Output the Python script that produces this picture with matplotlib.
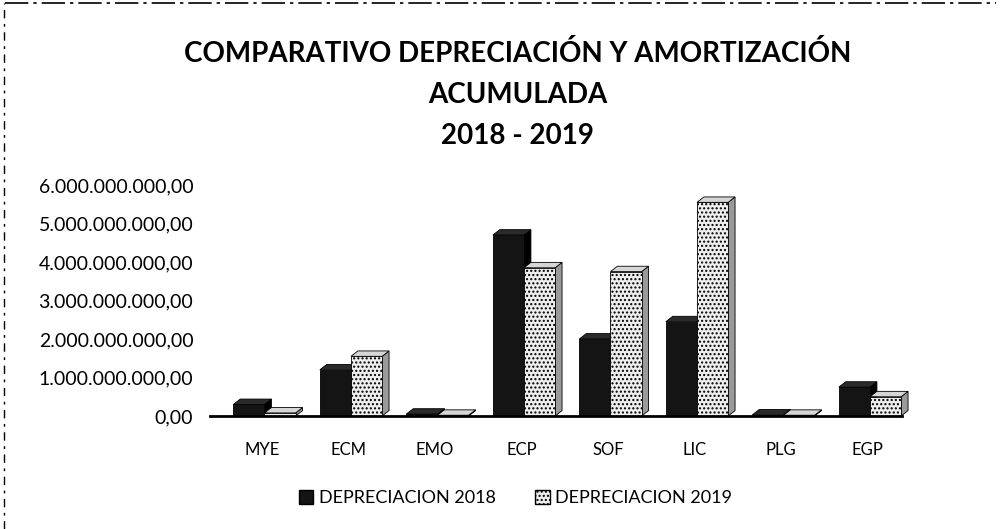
import numpy as np
import matplotlib
matplotlib.use("Agg")
import matplotlib.pyplot as plt
from matplotlib.patches import Polygon, Patch
from matplotlib.ticker import FuncFormatter

categorias = ['MYE', 'ECM', 'EMO', 'ECP', 'SOF', 'LIC', 'PLG', 'EGP']
dep_2018 = [0.30e9, 1.20e9, 0.05e9, 4.70e9, 2.00e9, 2.45e9, 0.03e9, 0.75e9]
dep_2019 = [0.08e9, 1.55e9, 0.02e9, 3.85e9, 3.75e9, 5.55e9, 0.02e9, 0.50e9]
yticks = [0, 1e9, 2e9, 3e9, 4e9, 5e9, 6e9]

plt.rcParams['font.family'] = ['Lato', 'DejaVu Sans']
plt.rcParams['hatch.color'] = '#a8a8a8'

fig = plt.figure(figsize=(10.01, 5.29), dpi=100)
ax = fig.add_axes([210/1001, 1-416/529, 692/1001, (416-185)/529])

x = np.arange(len(categorias))
w = 0.36
desp = 0.03    # los bloques 3D quedan algo a la derecha de la etiqueta
dx = 0.08      # profundidad (efecto 3D) en unidades de x
dy = 0.14e9    # profundidad en unidades de y


def barra3d(xc, h, front, side, top, hatch=None):
    x0 = xc - w/2
    x1 = xc + w/2
    ax.add_patch(Polygon([(x1, 0), (x1+dx, dy), (x1+dx, h+dy), (x1, h)], clip_on=False,
                         closed=True, facecolor=side, edgecolor='black', lw=0.6))
    ax.add_patch(Polygon([(x0, h), (x0+dx, h+dy), (x1+dx, h+dy), (x1, h)], clip_on=False,
                         closed=True, facecolor=top, edgecolor='black', lw=0.6))
    ax.bar(xc, h, width=w, color=front, edgecolor='black', lw=0.6, hatch=hatch, clip_on=False)


for i in range(len(categorias)):
    barra3d(x[i] - w/2 + desp, dep_2018[i], '#141414', '#000000', '#2a2a2a')
    barra3d(x[i] + w/2 + desp, dep_2019[i], '#eeeeee', '#9a9a9a', '#d6d6d6', hatch='....')

ax.set_xlim(-0.6, 7.4)
ax.set_ylim(0, 6e9)
ax.set_xticks(x)
ax.set_xticklabels(categorias, fontsize=12)
ax.set_yticks(yticks)
ax.yaxis.set_major_formatter(FuncFormatter(
    lambda v, p: '{:,.2f}'.format(v).replace(',', 'X').replace('.', ',').replace('X', '.')))
ax.tick_params(axis='y', labelsize=14, length=0, pad=12)
ax.tick_params(axis='x', length=0, pad=19)
for s in ['top', 'right', 'left']:
    ax.spines[s].set_visible(False)
ax.spines['bottom'].set_linewidth(2)
ax.set_facecolor('none')

fig.text(0.517, 1-54/529, 'COMPARATIVO DEPRECIACIÓN Y AMORTIZACIÓN',
         ha='center', va='center', fontsize=20, fontweight='bold')
fig.text(0.517, 1-95/529, 'ACUMULADA', ha='center', va='center', fontsize=20, fontweight='bold')
fig.text(0.517, 1-136/529, '2018 - 2019', ha='center', va='center', fontsize=20, fontweight='bold')

handles = [Patch(facecolor='#141414', edgecolor='black', label='DEPRECIACION 2018'),
           Patch(facecolor='#eeeeee', edgecolor='black', hatch='....', label='DEPRECIACION 2019')]
fig.legend(handles=handles, loc='center', bbox_to_anchor=(0.515, 1-498/529), ncol=2,
           frameon=False, fontsize=13, handlelength=0.8, handleheight=0.8,
           handletextpad=0.3, columnspacing=2.2)

# borde punteado del escaneo
fig.add_artist(plt.Line2D([0.005, 0.995], [0.994, 0.994], color='black', lw=1.2,
                          ls=(0, (14, 3, 2, 3)), transform=fig.transFigure))
fig.add_artist(plt.Line2D([0.004, 0.004], [0.0, 0.994], color='black', lw=1.0,
                          ls=(0, (6, 4, 2, 4)), transform=fig.transFigure))

fig.savefig('out.png', dpi=100)
